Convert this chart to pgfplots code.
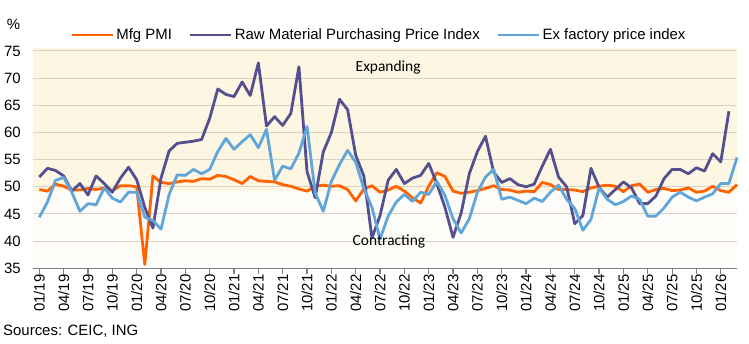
\documentclass[border=0pt]{standalone}
\usepackage{pgfplots}
\usepackage{pgfplotstable}
\pgfplotsset{compat=1.18}
\usepackage{fontspec}
\setmainfont{Liberation Sans}
\newfontfamily\calib{Carlito}
\definecolor{ingorange}{HTML}{FF6200}
\definecolor{ingpurple}{HTML}{54508F}
\definecolor{ingblue}{HTML}{60A6DA}
\definecolor{cream}{HTML}{FDF6E3}
\definecolor{lowbg}{HTML}{FDFCF9}
\definecolor{gridc}{HTML}{D9D2C3}
\definecolor{axisc}{HTML}{808080}

\pgfplotstableread{
v
49.5
49.2
50.5
50.1
49.4
49.4
49.7
49.5
49.8
49.3
50.2
50.2
50.0
35.7
52.0
50.8
50.6
50.9
51.1
51.0
51.5
51.4
52.1
51.9
51.3
50.6
51.9
51.1
51.0
50.9
50.4
50.1
49.6
49.2
50.1
50.3
50.1
50.2
49.5
47.4
49.6
50.2
49.0
49.4
50.1
49.2
48.0
47.0
50.1
52.6
51.9
49.2
48.8
49.0
49.3
49.7
50.2
49.5
49.4
49.0
49.2
49.1
50.8
50.4
49.5
49.5
49.4
49.1
49.8
50.1
50.3
50.1
49.1
50.2
50.5
49.0
49.5
49.7
49.3
49.4
49.8
49.0
49.2
50.1
49.3
49.0
50.4
}\pmi

\pgfplotstableread{
v
51.8
53.4
53.0
52.0
49.2
50.6
48.5
52.0
50.6
49.0
51.6
53.6
51.3
46.2
42.4
51.6
56.6
58.0
58.2
58.4
58.7
62.6
68.0
67.0
66.6
69.3
66.8
72.8
61.2
62.9
61.3
63.5
72.1
52.8
48.0
56.4
60.0
66.1
64.2
55.8
52.0
40.6
44.7
51.2
53.2
50.6
51.6
52.1
54.3
50.6
46.2
40.7
45.2
52.4
56.5
59.3
52.7
50.8
51.5
50.4
50.0
50.5
53.8
56.9
51.8
50.0
43.2
44.7
53.4
49.9
48.1
49.5
50.9
49.8
46.9
46.9
48.3
51.5
53.2
53.2
52.4
53.5
52.9
56.1
54.6
63.9
}\raw

\pgfplotstableread{
v
44.4
47.2
51.2
51.7
49.0
45.5
46.9
46.7
49.8
47.9
47.2
49.0
49.0
44.4
43.8
42.2
48.6
52.2
52.1
53.2
52.4
53.2
56.5
58.9
56.9
58.3
59.6
57.2
60.6
51.2
53.8
53.3
56.2
61.1
48.9
45.5
51.0
54.1
56.7
54.5
49.7
46.2
40.4
44.6
47.2
48.6
47.3
49.0
48.6
51.0
48.4
44.1
41.5
44.1
49.0
51.8
53.2
47.7
48.1
47.5
46.9
47.9
47.3
49.0
50.3
47.7
46.0
42.0
44.0
49.8
47.7
46.7
47.3
48.3
47.7
44.6
44.6
46.1
48.1
49.0
48.1
47.4
48.1
48.7
50.6
50.6
55.4
}\exf

\begin{document}
\begin{tikzpicture}
% background bands
\begin{axis}[
  at={(0,0)}, anchor=south west,
  scale only axis, width=704bp, height=220.6bp,
  xmin=-0.78, xmax=86, ymin=35, ymax=75.6,
  hide axis, clip=false,
]
\fill[lowbg] (axis cs:-0.78,35) rectangle (axis cs:86,49.2);
\fill[cream] (axis cs:-0.78,49.2) rectangle (axis cs:86,75.6);
\end{axis}
\begin{axis}[
  clip=false,
  at={(0,0)}, anchor=south west,
  scale only axis, width=704bp, height=220.6bp,
  xmin=-0.78, xmax=86, ymin=35, ymax=75.6,
  axis x line*=bottom, axis y line*=left,
  y axis line style={draw=none},
  x axis line style={draw=axisc, line width=1.2bp},
  xtick={0,3,...,84},
  xticklabels={01/19,04/19,07/19,10/19,01/20,04/20,07/20,10/20,01/21,04/21,07/21,10/21,01/22,04/22,07/22,10/22,01/23,04/23,07/23,10/23,01/24,04/24,07/24,10/24,01/25,04/25,07/25,10/25,01/26},
  xtick align=outside, major tick length=6bp,
  xtick style={draw=axisc, line width=1.2bp},
  ytick={35,40,...,75},
  ytick style={draw=none},
  ymajorgrids, grid style={draw=gridc, line width=1bp},
  tick label style={font=\fontsize{15}{18}\selectfont},
  /pgf/number format/assume math mode=true,
  xticklabel style={rotate=90, anchor=east, inner sep=0pt},
  yticklabel style={anchor=east, inner sep=0pt, xshift=-12bp},
  legend style={at={(0.4915,1.0576)}, anchor=center, draw=none, fill=none,
    legend columns=3, font=\fontsize{15}{18}\selectfont,
    /tikz/every even column/.append style={column sep=15bp}},
  legend image code/.code={\draw[#1, line width=2.8bp] (0bp,0bp) -- (41bp,0bp);},
  every axis plot/.append style={line width=2.8bp, line join=round},
]
\addplot[ingorange] table[x expr=\coordindex, y=v] {\pmi};
\addlegendentry{Mfg PMI}
\addplot[ingpurple] table[x expr=\coordindex, y=v] {\raw};
\addlegendentry{Raw Material Purchasing Price Index}
\addplot[ingblue] table[x expr=\coordindex, y=v] {\exf};
\addlegendentry{Ex factory price index}
\node[font=\calib\fontsize{15.5}{18}\selectfont] at (axis cs:43,72.05) {Expanding};
\node[font=\calib\fontsize{15.5}{18}\selectfont] at (axis cs:43.1,40.0) {Contracting};
\node[font=\fontsize{15}{18}\selectfont] at (axis description cs:-0.0277,1.107) {\%};
\node[anchor=base west, inner sep=0pt, font=\fontsize{15}{18}\selectfont] at (axis description cs:-0.0426,-0.3055) {Sources: CEIC, ING};
\end{axis}
\path (-33bp,-75.7bp) rectangle (716bp,268.3bp);
\end{tikzpicture}
\end{document}
